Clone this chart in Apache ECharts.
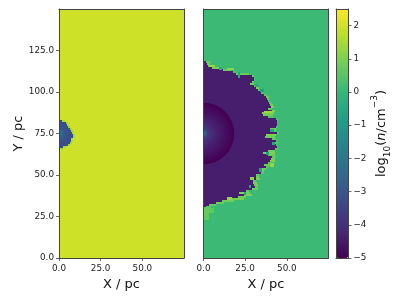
<!DOCTYPE html>
<html><head><meta charset="utf-8">
<style>html,body{margin:0;padding:0;background:#fff}#c{width:399px;height:299px;filter:blur(0.35px)}</style>
<script src="https://cdn.jsdelivr.net/npm/echarts@6/dist/echarts.min.js"></script>
</head><body><div id="c"></div>
<script>
const xTicks=[0,25,50];
const yTicks=[0,25,50,75,100,125];
const barTicks=[-5,-4,-3,-2,-1,0,1,2];
const viridis=['#440154','#482878','#3e4989','#31688e','#26828e','#1f9e89','#35b779','#6ece58','#b5de2b','#fde725'];
const ambientLeft=1.95, ambientRight=0.1, cavity=-4.4;
// left panel: small ionised region
const leftTop=82.9, rowH=1.2;
const leftFront=[1.8,4.2,4.8,5.4,6.6,7.2,7.8,8.4,8.4,7.2,7.2,6.6,5.4,2.4,0.6];
const leftFringeW=[1.5,1,1,1,1,1,1,1,1,1,1,1,1.5,2,1.5];
const leftFringeV=[1.5,1.4,1.5,1.3,1.5,1.4,1.5,1.4,1.5,1.4,1.5,1.3,1.5,1.5,1.4];
const leftBlobV=-3.3;
const leftRingR=[6.5,5.5,4.5,3.5,2.5,1.5,0.8];
const leftRingV=[-3.2,-3.1,-3.0,-2.8,-2.6,-2.2,-1.8];
// right panel: ionised cavity rows from the top
const rightTop=118.9;
const rightFront=[1.5,2,2.7,5,11.7,17.7,19.5,29,30,30,29,28,30.5,31.5,32.7,34,34.5,36.5,37.5,38,38.7,39.5,40,40.5,38.7,41,35,35.7,38.7,43.5,44,44,44,43.5,40,41,44,37.5,37,41,43.5,43,43.5,44,43,38.7,35.7,38.7,41,40.5,40,38.7,36.5,37.5,35,34,34.5,31.5,31.5,31.5,29.7,29.7,30.5,31,29,25.5,25.5,24.3,20.7,17,11,7.5,3.3,1.5];
const rightFringeW=[3,2,3,5,5,2,8,1.5,1,1,1.5,2.5,1.5,1.5,2,2.5,1.5,1.5,1.5,1.5,1,1.5,1.5,2,2.5,2,7,6,3,1,0.7,0.7,0.7,1,3.5,2.5,1,6,6,2.5,1,1.5,1,0.7,1.5,4,7,4,2.5,2.5,3,2,2.5,2,2.5,2.5,2,1.5,2,2.5,1.5,2.5,2,1.5,3.5,2,2.5,5,5,7,7,5,4,3];
const rightFringeV=[0.6,0.9,0.7,0.9,0.7,0.4,0.8,0.6,0.4,0.4,0.6,0.9,0.7,1,0.6,0.8,0.3,0.6,0.8,0.6,0.4,0.6,0.8,1,0.7,1,1,0.8,0.5,0.4,0.3,0.3,0.3,0.4,0.8,0.6,0.5,1,0.8,0.6,0.4,0.5,0.4,0.3,0.5,0.8,1,0.8,0.6,0.9,1,0.6,0.8,0.5,0.8,0.9,0.5,0.7,0.9,1,0.6,0.9,0.8,0.6,0.8,0.6,0.8,0.9,0.8,0.9,0.8,0.8,0.7,0.5];
const rightPatches=[[20.7,22,108.4,112,-0.6],[0,3,23,31,0.7],[3,6.5,27,30,0.6],
  [3,7,115,116.5,1.3],[14,18,113,114.5,1.2],[36,41,87.5,88.7,1.4],[40,42,55,57,1.3],[14,17,35,36.5,1.3],[28,30,47,49,1.2],[21,24,38.5,40,1.1],
  [34,36,100,102,-0.8],[37.5,39,62,64,-0.8],[24,25.5,38,40,-0.7],[31,33,103,105,-0.5],[40,42,76,78,-0.6],[33,35,52,54,-0.7],[9,11,113.5,115,-0.5],[27,28.5,42,44,-0.6],[41,43,68,70,-0.5]];
const coreR=[18.5,17,15.5,14,12.5,11,9.5,8,6.5,5,4,3,2.2,1.5,0.9,0.5];
const coreV=[-5,-4.9,-4.8,-4.7,-4.6,-4.5,-4.4,-4.3,-4.15,-4,-3.85,-3.6,-3.3,-2.8,-2.2,-1.5];

function cells(top,front,fw,fv,cavV,ambient,patches){
  const out=[[0,75,0,150,ambient]];
  front.forEach((f,i)=>{
    const y1=top-i*rowH,y0=y1-rowH;
    out.push([f,f+fw[i],y0,y1,fv[i]]);
    out.push([0,f,y0,y1,cavV]);
  });
  return out.concat(patches);
}
const rect=(p,api)=>{
  const a=api.coord([api.value(0),api.value(3)]),b=api.coord([api.value(1),api.value(2)]);
  const x0=Math.round(a[0]),y0=Math.round(a[1]),x1=Math.round(b[0]),y1=Math.round(b[1]);
  return {type:'rect',shape:{x:x0,y:y0,width:x1-x0,height:y1-y0},style:{fill:api.visual('color')}};
};
const ring=(p,api)=>{
  const a=api.coord([0,75]),e=api.coord([api.value(0),75]);
  return {type:'sector',shape:{cx:a[0],cy:a[1],r:e[0]-a[0],r0:0,startAngle:-Math.PI/2,endAngle:Math.PI/2},style:{fill:api.visual('color')}};
};
const rings=(r,v)=>r.map((x,i)=>[x,0,0,0,v[i]]);
const base={type:'custom',silent:true,dimensions:['a','b','c','d','v'],encode:{x:[0,1],y:[2,3]}};
const grids=[{left:59,top:9,width:125,height:249},{left:203.5,top:9,width:125,height:249},{left:336,top:9,width:12.5,height:249}];
const lineC='#444',txt='#222',F='DejaVu Sans';
const fmt=v=>v.toFixed(1);
const hidden={axisLabel:{show:false},axisTick:{show:false},splitLine:{show:false}};
const common=(g,min,max)=>({gridIndex:g,type:'value',min,max,z:6,splitLine:{show:false},axisLine:{show:true,onZero:false,lineStyle:{color:lineC,width:1}}});
const lab={fontFamily:F,fontSize:8.8,color:txt};
const tick={length:3,lineStyle:{color:lineC,width:0.8}};
const nameS={fontFamily:F,fontSize:13,color:'#111'};
const xAxis=[],yAxis=[];
[0,1].forEach(g=>{
  xAxis.push({...common(g,0,75),position:'bottom',name:'X / pc',nameLocation:'middle',nameGap:17,nameTextStyle:nameS,
    axisTick:{...tick,customValues:xTicks},axisLabel:{...lab,margin:6,customValues:xTicks,formatter:fmt}});
  xAxis.push({...common(g,0,75),position:'top',...hidden});
  yAxis.push(g===0?{...common(g,0,150),position:'left',name:'Y / pc',nameLocation:'middle',nameGap:34,nameTextStyle:nameS,
    axisTick:{...tick,customValues:yTicks},axisLabel:{...lab,margin:5,customValues:yTicks,formatter:fmt}}
    :{...common(g,0,150),position:'left',...hidden});
  yAxis.push({...common(g,0,150),position:'right',...hidden});
});
xAxis.push({...common(2,0,1),position:'bottom',...hidden},{...common(2,0,1),position:'top',...hidden});
yAxis.push({...common(2,-5,2.5),position:'left',...hidden});
yAxis.push({...common(2,-5,2.5),position:'right',
  name:'{a|log}{s|10}{a|(}{i|n}{a|/cm}{u|\u22123}{a|)}',nameLocation:'middle',nameRotate:90,nameGap:21,
  nameTextStyle:{fontFamily:F,fontSize:13,color:'#111',rich:{
    a:{fontFamily:F,fontSize:13,color:'#111',lineHeight:22},
    i:{fontFamily:F,fontSize:13,fontStyle:'italic',color:'#111',lineHeight:22},
    s:{fontFamily:F,fontSize:9,color:'#111',verticalAlign:'bottom'},
    u:{fontFamily:F,fontSize:9,color:'#111',verticalAlign:'top'}}},
  axisTick:{...tick,customValues:barTicks},
  axisLabel:{...lab,margin:5,customValues:barTicks,formatter:v=>String(v).replace('-','\u2212')}});
const option={animation:false,backgroundColor:'#fff',grid:grids,xAxis,yAxis,
  visualMap:{type:'continuous',min:-5,max:2.5,dimension:4,seriesIndex:[0,1,2,3],left:336,top:9,padding:0,itemWidth:12.5,itemHeight:249,calculable:false,realtime:false,hoverLink:false,showLabel:false,text:null,inRange:{color:viridis},orient:'vertical'},
  series:[
    {...base,xAxisIndex:0,yAxisIndex:0,renderItem:rect,data:cells(leftTop,leftFront,leftFringeW,leftFringeV,leftBlobV,ambientLeft,[])},
    {...base,xAxisIndex:0,yAxisIndex:0,renderItem:ring,data:rings(leftRingR,leftRingV)},
    {...base,xAxisIndex:2,yAxisIndex:2,renderItem:rect,data:cells(rightTop,rightFront,rightFringeW,rightFringeV,cavity,ambientRight,rightPatches)},
    {...base,xAxisIndex:2,yAxisIndex:2,renderItem:ring,data:rings(coreR,coreV)}
  ]};
echarts.init(document.getElementById('c'),null,{renderer:'canvas'}).setOption(option);
</script></body></html>
